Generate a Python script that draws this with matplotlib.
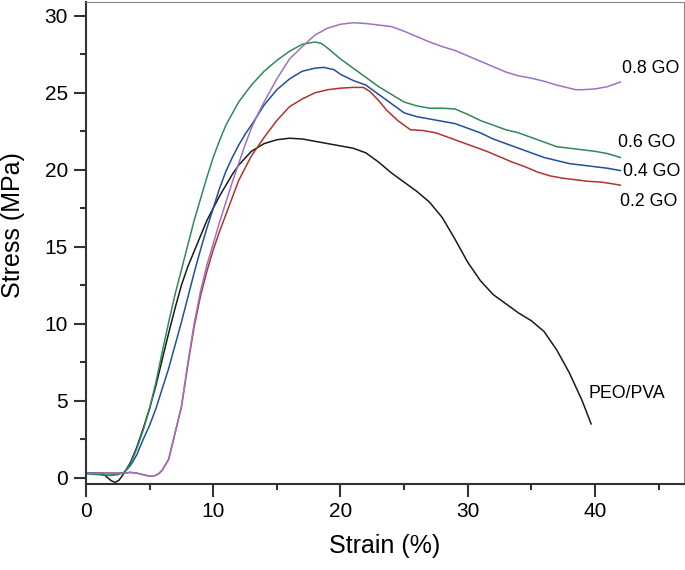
import matplotlib
matplotlib.use('Agg')
import matplotlib.pyplot as plt
from matplotlib.ticker import MultipleLocator

plt.rcParams['font.family'] = ['Liberation Sans', 'DejaVu Sans']

# strain (%) / stress (MPa)
peo_x = [0, 0.5, 1.0, 1.5, 2.0, 2.3, 2.6, 3.0, 3.5, 4.0, 4.5, 5.0, 5.5, 6.0, 6.5, 7.0,
         7.5, 8.0, 8.5, 9.0, 9.5, 10.0, 10.5, 11.0, 11.5, 12.0, 13.0, 14.0, 15.0, 16.0,
         17.0, 18.0, 19.0, 20.0, 21.0, 22.0, 23.0, 24.0, 25.0, 26.0, 27.0, 28.0, 29.0,
         30.0, 31.0, 32.0, 33.0, 34.0, 35.0, 36.0, 37.0, 38.0, 39.0, 39.7]
peo_y = [0.3, 0.28, 0.25, 0.15, -0.2, -0.3, -0.15, 0.3, 1.0, 2.0, 3.2, 4.5, 6.0, 7.7, 9.4,
         11.0, 12.5, 13.7, 14.7, 15.7, 16.7, 17.5, 18.3, 19.0, 19.7, 20.3, 21.2, 21.7,
         21.95, 22.05, 22.0, 21.85, 21.7, 21.55, 21.4, 21.1, 20.5, 19.8, 19.2, 18.6, 17.9,
         16.9, 15.5, 14.0, 12.8, 11.9, 11.3, 10.7, 10.2, 9.5, 8.3, 6.8, 5.0, 3.5]

go2_x = [0, 1, 2, 3, 3.5, 4, 4.5, 5, 5.3, 5.7, 6, 6.5, 7, 7.5, 8, 8.5, 9, 9.5, 10, 10.5,
         11, 11.5, 12, 12.5, 13, 14, 15, 16, 17, 18, 19, 20, 21, 21.8, 22.3, 23, 23.6,
         24.5, 25.5, 26.5, 27.5, 28.5, 29.5, 30.5, 31.5, 32.5, 33.5, 34.5, 35.5, 36.5,
         37.5, 38.5, 39.5, 40.5, 41.3, 42]
go2_y = [0.3, 0.3, 0.3, 0.3, 0.35, 0.3, 0.2, 0.1, 0.1, 0.25, 0.5, 1.2, 2.9, 4.6, 7.3, 9.8,
         11.8, 13.4, 14.8, 16.0, 17.1, 18.2, 19.3, 20.1, 20.9, 22.1, 23.2, 24.1, 24.6,
         25.0, 25.2, 25.3, 25.35, 25.35, 25.1, 24.5, 23.9, 23.2, 22.6, 22.55, 22.4, 22.1,
         21.8, 21.5, 21.2, 20.85, 20.5, 20.2, 19.85, 19.6, 19.45, 19.35, 19.25, 19.2,
         19.1, 19.0]

go4_x = [0, 1, 2, 2.5, 3, 3.5, 4, 4.5, 5, 5.5, 6, 6.5, 7, 7.5, 8, 8.5, 9, 9.5, 10, 10.5,
         11, 11.5, 12, 12.5, 13, 14, 15, 16, 17, 18, 18.7, 19.5, 20, 21, 22, 23, 24, 25,
         26, 27, 28, 29, 30, 31, 32, 33, 34, 35, 36, 37, 38, 39, 40, 41, 42]
go4_y = [0.3, 0.3, 0.25, 0.25, 0.35, 0.8, 1.5, 2.5, 3.4, 4.5, 5.8, 7.1, 8.6, 10.1, 11.7,
         13.3, 14.8, 16.2, 17.5, 18.8, 19.9, 20.8, 21.6, 22.3, 22.9, 24.2, 25.2, 25.9,
         26.4, 26.6, 26.65, 26.5, 26.2, 25.8, 25.5, 24.9, 24.3, 23.7, 23.45, 23.3, 23.15,
         23.0, 22.7, 22.4, 22.0, 21.7, 21.4, 21.1, 20.8, 20.6, 20.4, 20.3, 20.2, 20.1,
         19.95]

go6_x = [0, 1, 2, 2.5, 3, 3.5, 4, 4.5, 5, 5.5, 6, 6.5, 7, 7.5, 8, 8.5, 9, 9.5, 10, 10.5,
         11, 12, 13, 14, 15, 16, 17, 18, 18.5, 19, 20, 21, 22, 23, 24, 25, 26, 27, 28, 29,
         30, 31, 32, 33, 34, 35, 36, 37, 38, 39, 40, 41, 42]
go6_y = [0.25, 0.2, 0.15, 0.2, 0.35, 0.9, 1.9, 3.1, 4.5, 6.2, 8.2, 10.1, 11.9, 13.5, 15.1,
         16.7, 18.1, 19.5, 20.8, 21.9, 22.9, 24.4, 25.5, 26.4, 27.1, 27.7, 28.15, 28.3,
         28.2, 27.9, 27.2, 26.6, 26.0, 25.4, 24.9, 24.4, 24.15, 24.0, 24.0, 23.95, 23.6,
         23.2, 22.9, 22.6, 22.4, 22.1, 21.8, 21.5, 21.4, 21.3, 21.2, 21.05, 20.8]

go8_x = [0, 1, 2, 3, 3.5, 4, 4.5, 5, 5.3, 5.7, 6, 6.5, 7, 7.5, 8, 8.5, 9, 9.5, 10, 10.5,
         11, 11.5, 12, 12.5, 13, 13.5, 14, 15, 16, 17, 18, 19, 20, 21, 22, 23, 24, 25, 26,
         27, 28, 29, 30, 31, 32, 33, 34, 35, 36, 37, 38, 38.5, 39, 40, 41, 42]
go8_y = [0.3, 0.3, 0.3, 0.3, 0.35, 0.3, 0.2, 0.1, 0.1, 0.25, 0.5, 1.2, 2.9, 4.6, 7.4, 10.0,
         12.1, 13.8, 15.2, 16.6, 17.9, 19.2, 20.4, 21.6, 22.7, 23.6, 24.4, 25.9, 27.2,
         28.0, 28.75, 29.2, 29.45, 29.55, 29.5, 29.4, 29.3, 29.0, 28.65, 28.3, 28.0, 27.75,
         27.4, 27.05, 26.7, 26.35, 26.1, 25.95, 25.75, 25.5, 25.3, 25.2, 25.2, 25.25, 25.4,
         25.7]

labels = ['PEO/PVA', '0.2 GO', '0.4 GO', '0.6 GO', '0.8 GO']
label_x = [39.5, 41.95, 42.2, 41.8, 42.15]
label_y = [5.5, 17.95, 19.9, 21.8, 26.55]
colors = ['#1a1a1a', '#b3322c', '#1f4f9e', '#2f8a58', '#9d72c6']

fig = plt.figure(figsize=(6.85, 5.7), dpi=100)
ax = fig.add_axes([0.1255, 0.151, 0.873, 0.8456])

series = [(peo_x, peo_y), (go2_x, go2_y), (go4_x, go4_y), (go6_x, go6_y), (go8_x, go8_y)]
for (x, y), c in zip(series, colors):
    ax.plot(x, y, color=c, lw=1.1)

for t, tx, ty in zip(labels, label_x, label_y):
    ax.text(tx, ty, t, fontsize=12.8, va='center', ha='left', color='black')

ax.set_xlim(0, 47)
ax.set_ylim(-0.4, 30.9)
ax.xaxis.set_major_locator(MultipleLocator(10))
ax.xaxis.set_minor_locator(MultipleLocator(5))
ax.yaxis.set_major_locator(MultipleLocator(5))
ax.yaxis.set_minor_locator(MultipleLocator(2.5))
ax.tick_params(which='major', direction='out', length=9, width=1.5, color='#333333',
               labelsize=15, pad=4)
ax.tick_params(which='minor', direction='out', length=4.5, width=1.5, color='#333333')

for s in ['left', 'bottom']:
    ax.spines[s].set_linewidth(1.5)
    ax.spines[s].set_color('#333333')
for s in ['top', 'right']:
    ax.spines[s].set_linewidth(0.8)
    ax.spines[s].set_color('#888888')

ax.set_xlabel('Strain (%)', fontsize=18)
ax.set_ylabel('Stress (MPa)', fontsize=18)
ax.xaxis.set_label_coords(0.5, -0.129)
ax.yaxis.set_label_coords(-0.122, 0.537)
ax.xaxis.label.set_va('center')
ax.yaxis.label.set_va('center')

fig.savefig('out.png', dpi=100)
